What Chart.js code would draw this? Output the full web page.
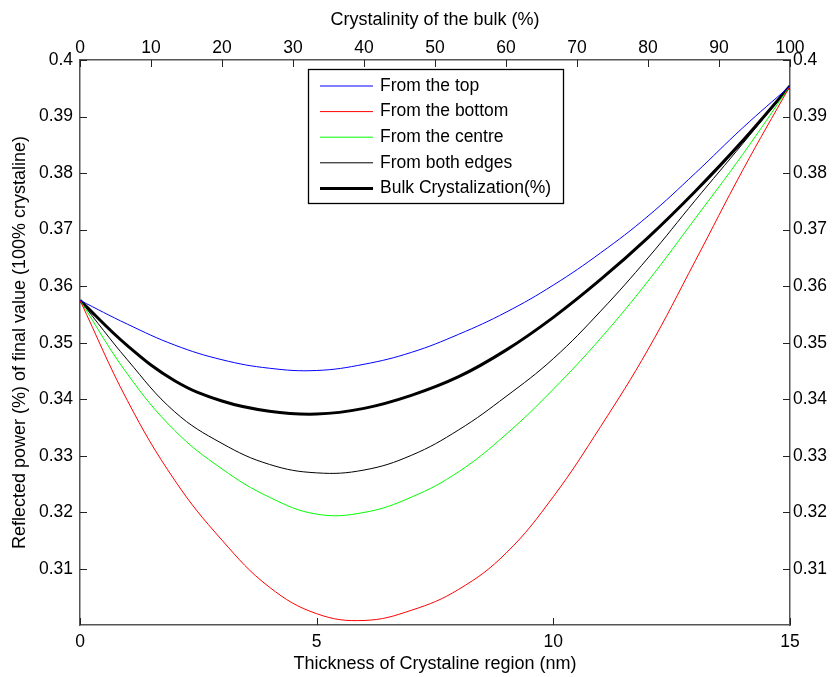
<!DOCTYPE html>
<html>
<head>
<meta charset="utf-8">
<script src="https://cdn.jsdelivr.net/npm/chart.js@4.4.0/dist/chart.umd.min.js"></script>
<style>
  body { margin: 0; background: #fff; }
</style>
</head>
<body>
<canvas id="graficoReflexion" width="832" height="677"></canvas>
<script>
// values
var thickness = [0, 1, 2, 3, 4, 5, 6, 7, 8, 9, 10, 11, 12, 13, 14, 15];
var fromTop    = [0.3575, 0.3533, 0.3496, 0.3470, 0.3455, 0.3451, 0.3462, 0.3483, 0.3515, 0.3554, 0.3602, 0.3659, 0.3724, 0.3800, 0.3880, 0.3954];
var fromBottom = [0.3575, 0.3398, 0.3257, 0.3151, 0.3068, 0.3021, 0.3009, 0.3027, 0.3064, 0.3128, 0.3228, 0.3352, 0.3488, 0.3645, 0.3805, 0.3954];
var fromCentre = [0.3575, 0.3445, 0.3345, 0.3277, 0.3227, 0.3197, 0.3200, 0.3227, 0.3272, 0.3338, 0.3418, 0.3508, 0.3609, 0.3720, 0.3833, 0.3954];
var fromEdges  = [0.3575, 0.3470, 0.3378, 0.3322, 0.3285, 0.3270, 0.3275, 0.3301, 0.3346, 0.3405, 0.3472, 0.3556, 0.3650, 0.3752, 0.3852, 0.3954];
var bulk       = [0.3575, 0.3495, 0.3433, 0.3397, 0.3379, 0.3374, 0.3384, 0.3407, 0.3440, 0.3487, 0.3545, 0.3612, 0.3686, 0.3768, 0.3857, 0.3954];

var xTicks = [0, 5, 10, 15];
var bulkTicks = [0, 10, 20, 30, 40, 50, 60, 70, 80, 90, 100];
var yTicks = [0.31, 0.32, 0.33, 0.34, 0.35, 0.36, 0.37, 0.38, 0.39, 0.40];
var yMin = 0.3001, yMax = 0.4;

function pares(ys) {
  return thickness.map(function(x, i) { return { x: x, y: ys[i] }; });
}
function fijarTicks(lista) {
  return function(scale) {
    scale.ticks = lista.map(function(v) { return { value: v }; });
  };
}
function etiqueta(v) { return String(+(+v).toFixed(2)); }

var fuente = '"Liberation Sans", Arial, sans-serif';
Chart.defaults.font.family = fuente;
Chart.defaults.font.size = 17.5;
Chart.defaults.color = '#000';
var fuenteTitulo = { family: fuente, size: 18 };

// MATLAB style ticks pointing into the plot
var ticksAdentro = {
  id: 'ticksAdentro',
  afterDraw: function(chart) {
    var c = chart.ctx, a = chart.chartArea, len = 7, s = chart.scales;
    c.save();
    c.strokeStyle = '#222';
    c.lineWidth = 1;
    c.beginPath();
    s.x.ticks.forEach(function(t) {
      var p = Math.round(s.x.getPixelForValue(t.value)) + 0.5;
      c.moveTo(p, a.bottom); c.lineTo(p, a.bottom - len);
    });
    s.x2.ticks.forEach(function(t) {
      var p = Math.round(s.x2.getPixelForValue(t.value)) + 0.5;
      c.moveTo(p, a.top); c.lineTo(p, a.top + len);
    });
    s.y.ticks.forEach(function(t) {
      var p = Math.round(s.y.getPixelForValue(t.value)) + 0.5;
      c.moveTo(a.left, p); c.lineTo(a.left + len, p);
    });
    s.y2.ticks.forEach(function(t) {
      var p = Math.round(s.y2.getPixelForValue(t.value)) + 0.5;
      c.moveTo(a.right, p); c.lineTo(a.right - len, p);
    });
    c.stroke();
    c.restore();
  }
};

// legend box inside the axes
var leyenda = {
  id: 'leyenda',
  afterDraw: function(chart) {
    var c = chart.ctx;
    var x0 = 308, y0 = 69, w = 255, h = 134, fila = 25.6;
    c.save();
    c.fillStyle = '#fff';
    c.fillRect(x0, y0, w, h);
    c.strokeStyle = '#000';
    c.lineWidth = 1.3;
    c.strokeRect(x0 + 0.5, y0 + 0.5, w, h);
    c.font = '17.5px ' + fuente;
    c.textBaseline = 'middle';
    c.fillStyle = '#000';
    chart.data.datasets.forEach(function(ds, i) {
      var y = y0 + 17 + i * fila;
      c.strokeStyle = ds.borderColor;
      c.lineWidth = ds.borderWidth;
      c.beginPath();
      c.moveTo(320, y); c.lineTo(373, y);
      c.stroke();
      c.fillText(ds.label, 380, y);
    });
    c.restore();
  }
};

var ctx = document.getElementById('graficoReflexion').getContext('2d');
var grafico = new Chart(ctx, {
  type: 'line',
  data: {
    datasets: [
      { label: 'From the top', data: pares(fromTop), borderColor: '#0000ff', borderWidth: 1 },
      { label: 'From the bottom', data: pares(fromBottom), borderColor: '#ff0000', borderWidth: 1 },
      { label: 'From the centre', data: pares(fromCentre), borderColor: '#00ff00', borderWidth: 1 },
      { label: 'From both edges', data: pares(fromEdges), borderColor: '#000000', borderWidth: 1 },
      { label: 'Bulk Crystalization(%)', data: pares(bulk), borderColor: '#000000', borderWidth: 3 }
    ]
  },
  options: {
    responsive: false,
    animation: false,
    layout: { padding: 0 },
    elements: {
      point: { radius: 0 },
      line: { tension: 0.4, fill: false }
    },
    plugins: { legend: { display: false }, tooltip: { enabled: false } },
    scales: {
      x: {
        type: 'linear', position: 'bottom', min: 0, max: 15,
        afterBuildTicks: fijarTicks(xTicks),
        afterFit: function(s) { s.height = 52; },
        grid: { display: false, drawTicks: false },
        border: { display: true, color: '#555', width: 1.5 },
        ticks: { padding: 7, autoSkip: false, maxRotation: 0 },
        title: { display: true, text: 'Thickness of Crystaline region (nm)', font: fuenteTitulo, padding: { top: 0, bottom: 2 } }
      },
      x2: {
        type: 'linear', position: 'top', min: 0, max: 100,
        afterBuildTicks: fijarTicks(bulkTicks),
        afterFit: function(s) { s.height = 60; },
        grid: { display: false, drawTicks: false },
        border: { display: true, color: '#555', width: 1.5 },
        ticks: { padding: 1, autoSkip: false, maxRotation: 0 },
        title: { display: true, text: 'Crystalinity of the bulk (%)', font: fuenteTitulo, padding: { top: 9, bottom: 0 } }
      },
      y: {
        type: 'linear', position: 'left', min: yMin, max: yMax,
        afterBuildTicks: fijarTicks(yTicks),
        afterFit: function(s) { s.width = 80; },
        grid: { display: false, drawTicks: false },
        border: { display: true, color: '#555', width: 1.5 },
        ticks: { padding: 7, autoSkip: false, callback: etiqueta },
        title: { display: true, text: 'Reflected power (%) of final value (100% crystaline)', font: fuenteTitulo, padding: { top: 9, bottom: 0 } }
      },
      y2: {
        type: 'linear', position: 'right', min: yMin, max: yMax,
        afterBuildTicks: fijarTicks(yTicks),
        afterFit: function(s) { s.width = 42; },
        grid: { display: false, drawTicks: false },
        border: { display: true, color: '#555', width: 1.5 },
        ticks: { padding: 3, autoSkip: false, callback: etiqueta }
      }
    }
  },
  plugins: [ticksAdentro, leyenda]
});
</script>
</body>
</html>
